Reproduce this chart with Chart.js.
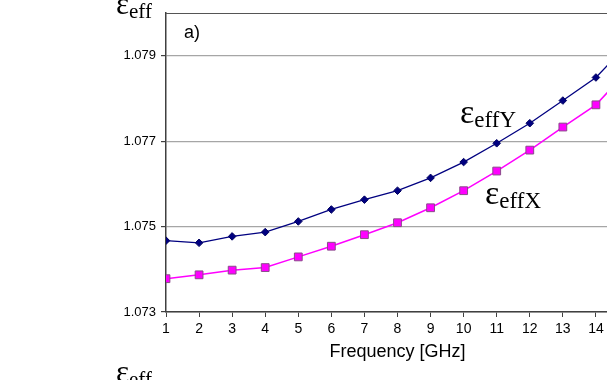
<!DOCTYPE html>
<html>
<head>
<meta charset="utf-8">
<script src="https://cdn.jsdelivr.net/npm/chart.js@4/dist/chart.umd.min.js"></script>
<style>
  html, body { margin: 0; padding: 0; background: #fff; }
  #wrap { position: relative; width: 607px; height: 380px; overflow: hidden; background: #fff; }
  canvas { display: block; }
</style>
</head>
<body>
<div id="wrap"><canvas id="c" width="640" height="380"></canvas></div>
<script>
// ---- data ----
const frequencies = [1, 2, 3, 4, 5, 6, 7, 8, 9, 10, 11, 12, 13, 14, 15];
const epsEffY = [1.07467, 1.07462, 1.07477, 1.07487, 1.07512, 1.07540, 1.07563, 1.07584,
                 1.07614, 1.07651, 1.07695, 1.07742, 1.07795, 1.07849, 1.07930];
const epsEffX = [1.07378, 1.07387, 1.07398, 1.07404, 1.07429, 1.07454, 1.07481, 1.07509,
                 1.07544, 1.07584, 1.07630, 1.07679, 1.07733, 1.07785, 1.07868];
const yTickValues = [1.073, 1.075, 1.077, 1.079];
const xTickValues = [1, 2, 3, 4, 5, 6, 7, 8, 9, 10, 11, 12, 13, 14];
const xTitle = 'Frequency [GHz]';
const panelLabel = 'a)';

const toPoints = (xs, ys) => xs.map((x, i) => ({ x: x, y: ys[i] }));

const AXIS = '#404040';
const GRID = '#a6a6a6';

const annotations = {
  id: 'annotations',
  afterDraw(chart) {
    const ctx = chart.ctx;
    const a = chart.chartArea;
    ctx.save();
    // top frame line
    ctx.strokeStyle = '#555';
    ctx.lineWidth = 1;
    ctx.beginPath();
    ctx.moveTo(a.left, a.top + 0.5);
    ctx.lineTo(a.right + 20, a.top + 0.5);
    ctx.stroke();

    ctx.fillStyle = '#000';
    ctx.textBaseline = 'alphabetic';
    ctx.textAlign = 'left';
    // panel label
    ctx.font = '18px "Liberation Sans", Arial, sans-serif';
    ctx.fillText(panelLabel, 184, 38);

    function eps(x, y, sub, bigSize, subSize, subDy) {
      ctx.font = bigSize + 'px "Liberation Serif", "Times New Roman", serif';
      ctx.fillText('\u03B5', x, y);
      const w = ctx.measureText('\u03B5').width;
      ctx.font = subSize + 'px "Liberation Serif", "Times New Roman", serif';
      ctx.fillText(sub, x + w, y + subDy);
    }
    // axis symbol (top) and the next panel's symbol peeking at the bottom
    eps(116, 14, 'eff', 31, 21, 4);
    eps(116, 382, 'eff', 31, 21, 4);
    // series labels
    eps(460, 123, 'effY', 34, 23, 4);
    eps(485, 204, 'effX', 34, 23, 4);
    ctx.restore();
  }
};

new Chart(document.getElementById('c'), {
  type: 'line',
  data: {
    datasets: [
      {
        label: 'εeffY',
        data: toPoints(frequencies, epsEffY),
        borderColor: '#000080',
        backgroundColor: '#000080',
        borderWidth: 1.3,
        pointStyle: 'rectRot',
        pointRadius: 3.8,
        pointBorderWidth: 1,
        pointBorderColor: '#000060',
        pointBackgroundColor: '#000080',
        tension: 0
      },
      {
        label: 'εeffX',
        data: toPoints(frequencies, epsEffX),
        borderColor: '#ff00ff',
        backgroundColor: '#ff00ff',
        borderWidth: 1.5,
        pointStyle: 'rect',
        pointRadius: 5.5,
        pointBorderWidth: 1,
        pointBorderColor: '#8a4a8a',
        pointBackgroundColor: '#ff00ff',
        tension: 0
      }
    ]
  },
  options: {
    responsive: false,
    maintainAspectRatio: false,
    animation: false,
    devicePixelRatio: 1,
    layout: { padding: { left: 0, right: 11, top: 13, bottom: 0 } },
    plugins: { legend: { display: false }, tooltip: { enabled: false } },
    scales: {
      x: {
        type: 'linear',
        min: 1,
        max: 15,
        afterBuildTicks(scale) { scale.ticks = xTickValues.map(v => ({ value: v })); },
        afterFit(scale) { scale.height = 68; },
        border: { display: true, color: AXIS, width: 1.5 },
        grid: { display: true, drawOnChartArea: false, drawTicks: true, tickLength: 5, tickColor: AXIS, color: AXIS },
        ticks: {
          color: '#000',
          padding: 4,
          maxRotation: 0,
          autoSkip: false,
          font: { family: '"Liberation Sans", Arial, sans-serif', size: 14 },
          callback: v => String(v)
        },
        title: {
          display: true,
          text: xTitle,
          color: '#000',
          padding: { top: 0, bottom: 17 },
          font: { family: '"Liberation Sans", Arial, sans-serif', size: 18 }
        }
      },
      y: {
        type: 'linear',
        min: 1.073,
        max: 1.080,
        afterBuildTicks(scale) { scale.ticks = yTickValues.map(v => ({ value: v })); },
        afterFit(scale) { scale.width = 166; },
        border: { display: true, color: AXIS, width: 1.5 },
        grid: { display: true, drawOnChartArea: true, drawTicks: true, tickLength: 5, tickColor: AXIS, color: GRID, lineWidth: 1.2 },
        ticks: {
          color: '#000',
          padding: 5,
          font: { family: '"Liberation Sans", Arial, sans-serif', size: 13 },
          callback: v => v.toFixed(3)
        }
      }
    }
  },
  plugins: [annotations]
});
</script>
</body>
</html>
